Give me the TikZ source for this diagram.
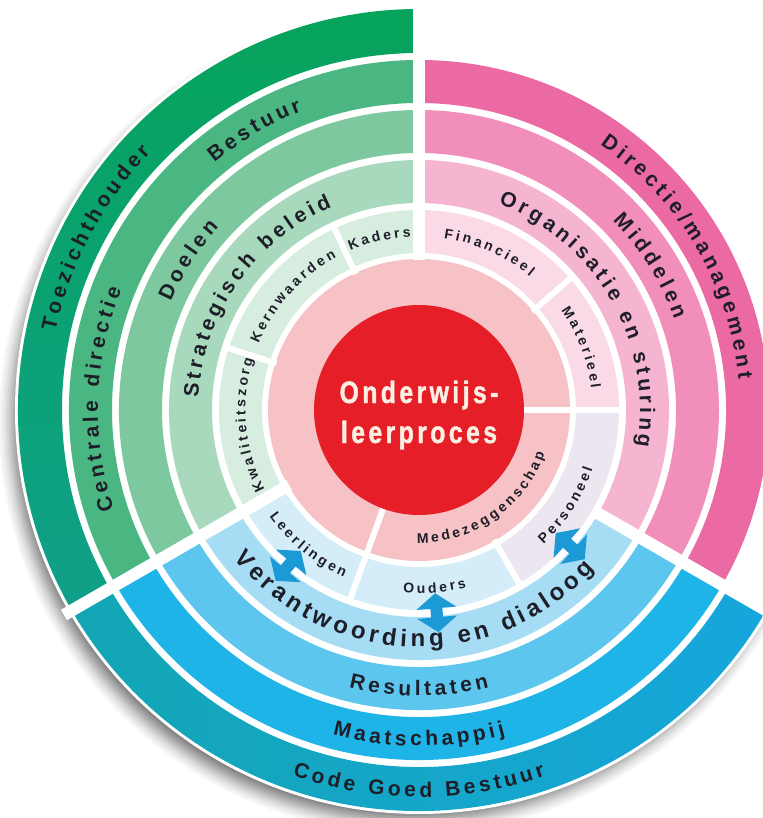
\documentclass[tikz,border=0pt]{standalone}
\usepackage{fontspec}
\setmainfont{Liberation Sans}
\newfontfamily\corefont[FakeStretch=0.8,FakeBold=1.2,LetterSpace=11]{Liberation Sans}

\definecolor{gOne}{HTML}{06A35B}
\definecolor{gOneB}{HTML}{10A08A}
\definecolor{gTwo}{HTML}{4AB681}
\definecolor{gThree}{HTML}{7DC89E}
\definecolor{gFour}{HTML}{A8D9BC}
\definecolor{gFive}{HTML}{D6EDE0}
\definecolor{pOne}{HTML}{EB6AA4}
\definecolor{pTwo}{HTML}{F18FBA}
\definecolor{pThree}{HTML}{F5B4CF}
\definecolor{pFour}{HTML}{F9DAE6}
\definecolor{pDisk}{HTML}{F7C2C6}
\definecolor{coreRed}{HTML}{E61E27}
\definecolor{bOne}{HTML}{12A6B4}
\definecolor{bOneB}{HTML}{17A6DC}
\definecolor{bTwo}{HTML}{1FB4E7}
\definecolor{bThree}{HTML}{5DC6EF}
\definecolor{bFour}{HTML}{A6DCF4}
\definecolor{bFive}{HTML}{D4EDF9}
\definecolor{persCol}{HTML}{ECE6F0}
\definecolor{arrowCol}{HTML}{1B9AD6}
\definecolor{txt}{HTML}{1E1E28}
\definecolor{coreTxt}{HTML}{FBEFE3}

\newcounter{labchar}
\tikzset{arcchar/.style={text=txt, inner sep=0pt, outer sep=0pt, anchor=base}}
% #1 angle, #2 rotation, #3 radius, #4 font size, #5 character
\newcommand\PlaceChar[5]{\stepcounter{labchar}\node[arcchar, name=lc\arabic{labchar}, rotate=#2] at (#1:#3) {\bfseries\fontsize{#4}{#4}\selectfont #5};}

\ExplSyntaxOn
\fp_new:N \l_lab_total_fp
\fp_new:N \l_lab_pos_fp
\fp_new:N \l_lab_w_fp
\fp_new:N \l_lab_angle_fp
\cs_new:Npn \lab_w:n #1
  {
    \str_if_eq:nnTF {#1} {~} { 278 }
      {
        \str_case:nnF {#1}
          {
            {A}{722} {B}{722} {C}{722} {D}{722} {E}{667} {F}{611} {G}{778}
            {H}{722} {I}{278} {K}{722} {L}{611} {M}{833} {N}{722} {O}{778}
            {P}{667} {R}{722} {S}{667} {T}{611} {V}{667}
            {a}{556} {b}{611} {c}{556} {d}{611} {e}{556} {f}{333} {g}{611}
            {h}{611} {i}{278} {j}{278} {k}{556} {l}{278} {m}{889} {n}{611}
            {o}{611} {p}{611} {r}{389} {s}{556} {t}{333} {u}{611} {v}{556}
            {w}{778} {z}{500} {/}{278} {-}{333}
          }
          { 556 }
      }
  }
% #1 font size, #2 letter gap (pt), #3 text, #4 centre angle, #5 radius, #6 +1 clockwise / -1 counter-clockwise
\cs_new_protected:Npn \ArcLabel #1 #2 #3 #4 #5 #6
  {
    \fp_zero:N \l_lab_total_fp
    \str_map_inline:nn {#3}
      { \fp_add:Nn \l_lab_total_fp { \lab_w:n {##1} * (#1) / 1000 + (#2) } }
    \fp_sub:Nn \l_lab_total_fp { #2 }
    \fp_set:Nn \l_lab_pos_fp { -0.5 * \l_lab_total_fp }
    \str_map_inline:nn {#3}
      {
        \fp_set:Nn \l_lab_w_fp { \lab_w:n {##1} * (#1) / 1000 }
        \fp_set:Nn \l_lab_angle_fp
          { (#4) - (#6) * ( \l_lab_pos_fp + 0.5 * \l_lab_w_fp ) / (#5) * 180 / pi }
        \str_if_eq:nnF {##1} {~}
          {
            \PlaceChar
              { \fp_eval:n { round(\l_lab_angle_fp, 3) } }
              { \fp_eval:n { round(\l_lab_angle_fp - 90*(#6), 3) } }
              {#5} {#1} {##1}
          }
        \fp_add:Nn \l_lab_pos_fp { \l_lab_w_fp + (#2) }
      }
  }
\ExplSyntaxOff

\newcommand\ringseg[5]{\fill[#1] (#2:#4) arc[start angle=#2, end angle=#3, radius=#4] -- (#3:#5) arc[start angle=#3, end angle=#2, radius=#5] -- cycle;}
\newcommand\dblarrow[1]{\fill[arrowCol, rotate=#1] (184,0) -- (199,20) -- (199,6) -- (208,6) -- (208,20) -- (223,0) -- (208,-20) -- (208,-6) -- (199,-6) -- (199,-20) -- cycle;}

\begin{document}
\begin{tikzpicture}[x=1pt,y=1pt]
\useasboundingbox (0,0) rectangle (762,818);
\begin{scope}[shift={(419,408)}]
 % soft shadow towards the lower left
 \fill[black!3]  (-8,-12) circle[radius=412];
 \fill[black!6]  (-8,-12) circle[radius=410];
 \fill[black!9]  (-8,-12) circle[radius=408];
 \fill[black!13] (-8,-12) circle[radius=406];
 \fill[black!17] (-8,-12) circle[radius=404];
 \fill[black!22] (-8,-12) circle[radius=402];
 \fill[black!27] (-8,-12) circle[radius=400];
 \fill[black!32] (-8,-12) circle[radius=398];
 \fill[black!37] (-8,-12) circle[radius=396];
 \fill[black!42] (-8,-12) circle[radius=394];
 \fill[black!47] (-8,-12) circle[radius=392];
 \fill[black!52] (-8,-12) circle[radius=390];
 \fill[white] (0,0) circle[radius=404];
 % green sector
 \shade[top color=gOne, bottom color=gOneB] (90:357) arc[start angle=90,end angle=210,radius=357] -- (210:401) arc[start angle=210,end angle=90,radius=401] -- cycle;
 \ringseg{gTwo}{90}{210}{307}{350}
 \ringseg{gThree}{90}{210}{257}{300}
 \ringseg{gFour}{90}{210}{207}{250}
 \ringseg{gFive}{90}{210}{157}{200}
 % pink sector
 \ringseg{pOne}{-30}{90}{307}{350}
 \ringseg{pTwo}{-30}{90}{257}{300}
 \ringseg{pThree}{-30}{90}{207}{250}
 \ringseg{pFour}{0}{90}{157}{200}
 % blue sector
 \shade[left color=bOne, right color=bOneB] (210:357) arc[start angle=210,end angle=330,radius=357] -- (330:401) arc[start angle=330,end angle=210,radius=401] -- cycle;
 \ringseg{bTwo}{210}{330}{307}{350}
 \ringseg{bThree}{210}{330}{257}{300}
 \ringseg{bFour}{210}{330}{207}{250}
 \ringseg{bFive}{210}{300}{157}{200}
 \ringseg{persCol}{300}{360}{157}{200}
 % inner disk
 \fill[pDisk] (0,0) circle[radius=151];
 % separators
 \draw[white, line width=12] (90:150) -- (90:410);
 \draw[white, line width=12] (210:150) -- (210:410);
 \draw[white, line width=12] (330:203) -- (330:410);
 \draw[white, line width=6] (115:150) -- (115:204);
 \draw[white, line width=6] (162:150) -- (162:204);
 \draw[white, line width=6] (41:150) -- (41:204);
 \draw[white, line width=6] (300:150) -- (300:204);
 \draw[white, line width=6] (0:100) -- (0:204);
 \draw[white, line width=6] (250:100) -- (250:204);
 % core
 \fill[coreRed] (0,0) circle[radius=105];
 \node[name=core, align=center, text=coreTxt, font=\corefont\bfseries\fontsize{31}{40}\selectfont, inner sep=0] at (0,-5) {Onderwijs-\\leerproces};
 % arrows
 \dblarrow{230}
 \dblarrow{275}
 \dblarrow{318}
 % labels green
 \ArcLabel{21}{3.8}{Toezichthouder}{152}{372}{1}
 \ArcLabel{21}{3.8}{Centrale directie}{178}{321}{1}
 \ArcLabel{21}{3.8}{Bestuur}{120.5}{321}{1}
 \ArcLabel{21}{3.8}{Doelen}{147}{271}{1}
 \ArcLabel{21}{3.8}{Strategisch beleid}{145}{221}{1}
 \ArcLabel{14}{3}{Kaders}{103}{173.5}{1}
 \ArcLabel{14}{3}{Kernwaarden}{138}{173.5}{1}
 \ArcLabel{14}{3}{Kwaliteitszorg}{185}{173.5}{1}
 % labels pink
 \ArcLabel{21}{3.8}{Directie/management}{30.6}{321}{1}
 \ArcLabel{21}{3.8}{Middelen}{32}{271}{1}
 \ArcLabel{21}{3.8}{Organisatie en sturing}{29.7}{221}{1}
 \ArcLabel{14}{3}{Financieel}{66}{173.5}{1}
 \ArcLabel{14}{3}{Materieel}{21}{173.5}{1}
 % labels blue
 \ArcLabel{24}{4.2}{Verantwoording en dialoog}{268.3}{237}{-1}
 \ArcLabel{21}{3.8}{Resultaten}{270}{286}{-1}
 \ArcLabel{21}{3.8}{Maatschappij}{270}{336}{-1}
 \ArcLabel{21}{3.8}{Code Goed Bestuur}{270}{387}{-1}
 \ArcLabel{14}{3}{Leerlingen}{230.6}{183.5}{-1}
 \ArcLabel{14}{3}{Ouders}{275}{183.5}{-1}
 \ArcLabel{14}{3}{Personeel}{327}{183.5}{-1}
 \ArcLabel{14}{3}{Medezeggenschap}{305}{133}{-1}
\end{scope}
\end{tikzpicture}
\end{document}
